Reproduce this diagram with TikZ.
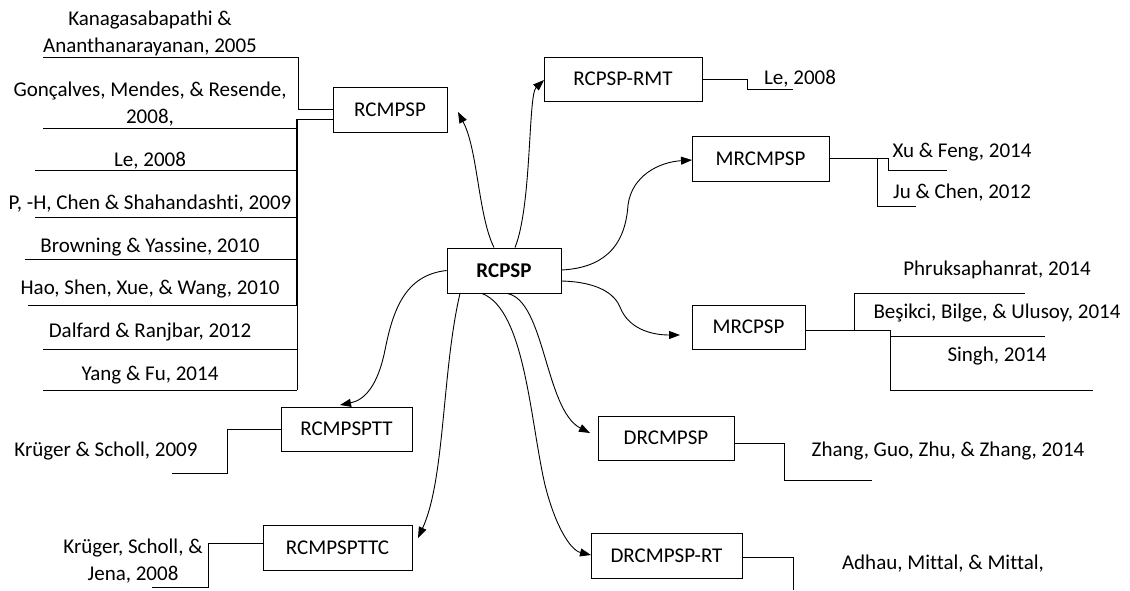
\documentclass[tikz,border=0pt]{standalone}
\usepackage{fontspec}
\setmainfont{Carlito}[Ligatures={NoCommon}]
\usetikzlibrary{arrows.meta}
\begin{document}
\begin{tikzpicture}[x=1pt,y=-1pt,
  box/.style={draw,line width=0.9pt,inner sep=0pt,font=\fontsize{21}{24}\selectfont},
  cite/.style={anchor=base,inner sep=0pt,font=\fontsize{21}{24}\selectfont},
  link/.style={line width=0.9pt},
  arr/.style={line width=0.9pt,-{Triangle[length=11pt,width=8pt]}}]
\useasboundingbox (0,0) rectangle (1130,590);
% boxes
\node[box,minimum width=114pt,minimum height=45pt,font=\fontsize{21}{24}\selectfont\bfseries] (rcpsp) at (504,270.5) {RCPSP};
\node[box,minimum width=114pt,minimum height=45pt] (rcmpsp) at (390,109.5) {RCMPSP};
\node[box,minimum width=158pt,minimum height=44pt] (rmt) at (623,79) {RCPSP-RMT};
\node[box,minimum width=137pt,minimum height=45pt] (mrcmpsp) at (760.5,158.5) {MRCMPSP};
\node[box,minimum width=113pt,minimum height=44pt] (mrcpsp) at (748.5,327) {MRCPSP};
\node[box,minimum width=136pt,minimum height=44pt] (drc) at (666,438) {DRCMPSP};
\node[box,minimum width=151pt,minimum height=45pt] (drcrt) at (666.5,555.5) {DRCMPSP-RT};
\node[box,minimum width=131pt,minimum height=44pt] (tt) at (346.5,429) {RCMPSPTT};
\node[box,minimum width=149pt,minimum height=45pt] (ttc) at (337.5,547.5) {RCMPSPTTC};
% arrow tips
\coordinate (t1) at (458,112);
\coordinate (t2) at (544,80);
\coordinate (t3) at (692,160);
\coordinate (t4) at (680,335);
\coordinate (t5) at (340,405);
\coordinate (t6) at (418,538);
\coordinate (t7) at (590,433);
\coordinate (t8) at (591,555);
% arrows
\draw[arr] ([xshift=-10pt]rcpsp.north) .. controls (478,215) and (478,150) .. (t1);
\draw[arr] ([xshift=11pt]rcpsp.north) .. controls (532,205) and (528,95) .. (t2);
\draw[arr] ([yshift=0.5pt]rcpsp.east) .. controls (600,268) and (625,250) .. (628,205) .. controls (632,175) and (660,162) .. (t3);
\draw[arr] ([yshift=-10.5pt]rcpsp.east) .. controls (600,282) and (615,295) .. (620,307) .. controls (628,328) and (650,335) .. (t4);
\draw[arr] (rcpsp.west) .. controls (405,275) and (393,310) .. (385,350) .. controls (378,385) and (365,400) .. (t5);
\draw[arr] ([xshift=-44pt]rcpsp.south) .. controls (442,370) and (445,480) .. (t6);
\draw[arr] ([xshift=3pt]rcpsp.south) .. controls (545,300) and (545,410) .. (t7);
\draw[arr] ([xshift=-22pt]rcpsp.south) .. controls (525,310) and (530,420) .. (545,485) .. controls (555,525) and (570,550) .. (t8);
% RCMPSP citations
\node[cite] (c1a) at (150,25) {Kanagasabapathi \&};
\node[cite] (c1b) at (150,52) {Ananthanarayanan, 2005};
\node[cite] (c2a) at (150,96) {Gonçalves, Mendes, \& Resende,};
\node[cite] (c2b) at (150,123) {2008,};
\node[cite] (c3) at (150,166) {Le, 2008};
\node[cite] (c4) at (150,209) {P, -H, Chen \& Shahandashti, 2009};
\node[cite] (c5) at (150,252) {Browning \& Yassine, 2010};
\node[cite] (c6) at (150,294) {Hao, Shen, Xue, \& Wang, 2010};
\node[cite] (c7) at (150,337) {Dalfard \& Ranjbar, 2012};
\node[cite] (c8) at (150,380) {Yang \& Fu, 2014};
\draw[link] (43,57) -- (298,57) |- (rcmpsp.west);
\draw[link] (43,128) -- (297,128);
\draw[link] (297,119) -- ([yshift=-9.5pt]rcmpsp.west);
\draw[line width=1.6pt] (297,119) -- (297,305);
\draw[link] (297,305) -- (297,390);
\draw[link] (35,170) -- (297,170);
\draw[link] (35,217) -- (297,217);
\draw[link] (25,259) -- (297,259);
\draw[link] (28,305) -- (297,305);
\draw[link] (43,349) -- (297,349);
\draw[link] (43,390) -- (297,390);
% RCPSP-RMT
\node[cite] (r1) at (800,84) {Le, 2008};
\draw[link] (rmt.east) -- (747,79) -- (747,89) -- (793,89);
% MRCMPSP
\node[cite] (m1) at (962,157) {Xu \& Feng, 2014};
\node[cite] (m2) at (962,198) {Ju \& Chen, 2012};
\draw[link] (mrcmpsp.east) -- (888,158.5) -- (888,170) -- (947,170);
\draw[link] (877,158.5) -- (877,206) -- (916,206);
% MRCPSP
\node[cite] (p1) at (997,275) {Phruksaphanrat, 2014};
\node[cite] (p2) at (997,318) {Beşikci, Bilge, \& Ulusoy, 2014};
\node[cite] (p3) at (997,361) {Singh, 2014};
\draw[link] ([yshift=-3pt]mrcpsp.east) -- (890,330) -- (890,390) -- (1093,390);
\draw[link] (854,330) -- (854,293) -- (1025,293);
\draw[link] (890,336) -- (1045,336);
% DRCMPSP
\node[cite] (d1) at (948,456) {Zhang, Guo, Zhu, \& Zhang, 2014};
\draw[link] ([yshift=-5pt]drc.east) -- (784,443) -- (784,480) -- (872,480);
% DRCMPSP-RT
\node[cite] (e1) at (943,569) {Adhau, Mittal, \& Mittal,};
\draw[link] ([yshift=-1.5pt]drcrt.east) -- (793,557) -- (793,590);
% RCMPSPTT
\node[cite] (k1) at (106,456) {Krüger \& Scholl, 2009};
\draw[link] (tt.west) -- (227,429) -- (227,473) -- (172,473);
% RCMPSPTTC
\node[cite] (k2a) at (133,553) {Krüger, Scholl, \&};
\node[cite] (k2b) at (133,580) {Jena, 2008};
\draw[link] ([yshift=4.5pt]ttc.west) -- (208,543) -- (208,587) -- (152,587);
\end{tikzpicture}
\end{document}
